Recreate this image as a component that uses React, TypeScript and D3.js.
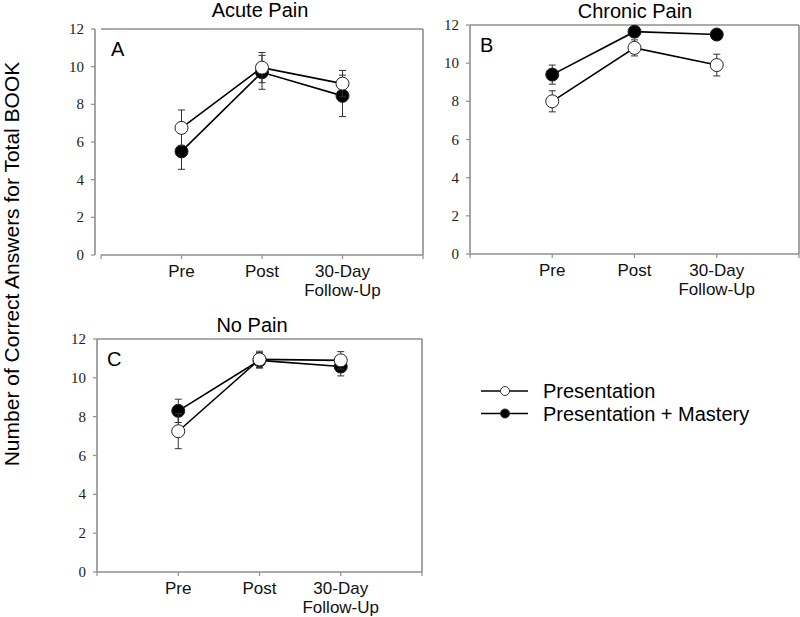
import React from "react";
import * as d3 from "d3";

// ---- data ----
const categories: string[][] = [["Pre"], ["Post"], ["30-Day", "Follow-Up"]];
const panelTitles = ["Acute Pain", "Chronic Pain", "No Pain"];
const panelLetters = ["A", "B", "C"];
const yTicks = [0, 2, 4, 6, 8, 10, 12];

const presentationMeans = [
  [6.75, 9.95, 9.1],
  [8.0, 10.8, 9.9],
  [7.25, 10.95, 10.9],
];
const presentationErr = [
  [0.95, 0.8, 0.7],
  [0.55, 0.42, 0.57],
  [0.9, 0.42, 0.45],
];
const masteryMeans = [
  [5.5, 9.7, 8.45],
  [9.4, 11.65, 11.5],
  [8.3, 10.9, 10.58],
];
const masteryErr = [
  [0.95, 0.9, 1.1],
  [0.5, 0.2, 0.2],
  [0.6, 0.4, 0.48],
];
const legendLabels = ["Presentation", "Presentation + Mastery"];

// ---- layout ----
const layouts = [
  { yAxisX: 95, x0: 101, x1: 423, yTop: 29, yBot: 255, titleX: 260, titleY: 17 },
  { yAxisX: 470, x0: 470, x1: 799, yTop: 25, yBot: 254, titleX: 635, titleY: 18 },
  { yAxisX: 97, x0: 97, x1: 422, yTop: 339, yBot: 572, titleX: 252, titleY: 332 },
];

const AXIS = "#8f8f8f";
const SANS = "'Liberation Sans', Arial, sans-serif";
const SERIF = "'Liberation Serif', 'Times New Roman', serif";

function Panel({ idx }: { idx: number }) {
  const L = layouts[idx];
  const x = d3.scaleLinear().domain([0, 4]).range([L.x0, L.x1]);
  const y = d3.scaleLinear().domain([0, 12]).range([L.yBot, L.yTop]);
  const line = d3
    .line<number>()
    .x((_, i) => x(i + 1))
    .y((d) => y(d));
  const series = [
    { means: masteryMeans[idx], err: masteryErr[idx], fill: "#000" },
    { means: presentationMeans[idx], err: presentationErr[idx], fill: "#fff" },
  ];
  const r = 6.5;
  const cap = 3.5;
  return (
    <g>
      <line x1={L.yAxisX} x2={L.yAxisX} y1={L.yTop} y2={L.yBot} stroke={AXIS} strokeWidth={1.6} />
      <line x1={L.x0} x2={L.x1} y1={L.yBot} y2={L.yBot} stroke={AXIS} strokeWidth={1.6} />
      <line x1={L.x0} x2={L.x1} y1={L.yTop} y2={L.yTop} stroke={AXIS} strokeWidth={1.6} />
      <line x1={L.x1} x2={L.x1} y1={L.yTop} y2={L.yBot} stroke={AXIS} strokeWidth={1.6} />
      {yTicks.map((t) => (
        <g key={t}>
          <line x1={L.yAxisX - 4} x2={L.yAxisX} y1={y(t)} y2={y(t)} stroke={AXIS} strokeWidth={1.2} />
          <text
            x={L.yAxisX - 11}
            y={y(t) + 5}
            textAnchor="end"
            fontFamily={SERIF}
            fontSize={15}
            fill="#222"
          >
            {t}
          </text>
        </g>
      ))}
      {[0, 1, 2, 3, 4].map((t) => (
        <line key={t} x1={x(t)} x2={x(t)} y1={L.yBot} y2={L.yBot + 4} stroke={AXIS} strokeWidth={1.2} />
      ))}
      {categories.map((lines, i) => (
        <text key={i} textAnchor="middle" fontFamily={SANS} fontSize={17} fill="#111">
          {lines.map((s, j) => (
            <tspan key={j} x={x(i + 1)} y={L.yBot + 22 + j * 19}>
              {s}
            </tspan>
          ))}
        </text>
      ))}
      <text x={L.titleX} y={L.titleY} textAnchor="middle" fontFamily={SANS} fontSize={20} fill="#000">
        {panelTitles[idx]}
      </text>
      <text x={L.x0 + 10} y={L.yTop + 27} fontFamily={SANS} fontSize={20} fill="#000">
        {panelLetters[idx]}
      </text>
      {series.map((s, k) => (
        <path key={"l" + k} d={line(s.means) || ""} fill="none" stroke="#000" strokeWidth={1.6} />
      ))}
      {series.map((s, k) => (
        <g key={"m" + k}>
          {s.means.map((m, i) => {
            const cx = x(i + 1);
            const hi = y(m + s.err[i]);
            const lo = y(m - s.err[i]);
            return (
              <g key={i}>
                <line x1={cx} x2={cx} y1={hi} y2={lo} stroke="#333" strokeWidth={1} />
                <line x1={cx - cap} x2={cx + cap} y1={hi} y2={hi} stroke="#333" strokeWidth={1} />
                <line x1={cx - cap} x2={cx + cap} y1={lo} y2={lo} stroke="#333" strokeWidth={1} />
              </g>
            );
          })}
          {s.means.map((m, i) => (
            <circle key={"c" + i} cx={x(i + 1)} cy={y(m)} r={r} fill={s.fill} stroke="#222" strokeWidth={1} />
          ))}
        </g>
      ))}
    </g>
  );
}

export default function App() {
  const legendFills = ["#fff", "#000"];
  return (
    <svg
      width={800}
      height={617}
      style={{ position: "absolute", left: 0, top: 0, background: "#fff" }}
    >
      <rect x={0} y={0} width={800} height={617} fill="#fff" />
      <text
        transform="translate(19,264) rotate(-90)"
        textAnchor="middle"
        fontFamily={SANS}
        fontSize={21}
        fill="#000"
      >
        Number of Correct Answers for Total BOOK
      </text>
      {[0, 1, 2].map((i) => (
        <Panel key={i} idx={i} />
      ))}
      {legendLabels.map((lab, i) => {
        const ly = 391 + i * 22.5;
        return (
          <g key={lab}>
            <line x1={481} x2={528} y1={ly} y2={ly} stroke="#000" strokeWidth={1.4} />
            <circle cx={505} cy={ly} r={4.5} fill={legendFills[i]} stroke="#333" strokeWidth={1} />
            <text x={543} y={ly + 7} fontFamily={SANS} fontSize={20} fill="#000">
              {lab}
            </text>
          </g>
        );
      })}
    </svg>
  );
}
